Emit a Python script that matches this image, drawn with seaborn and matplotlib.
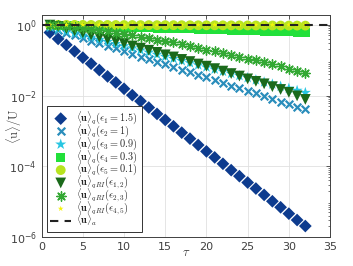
import numpy as np
import pandas as pd
import matplotlib
matplotlib.use("Agg")
import matplotlib.pyplot as plt
import seaborn as sns
from matplotlib.ticker import LogLocator, NullFormatter, FixedLocator

tau = list(range(1, 33))

# log10 of <u>/U
log_q1 = [-0.22, -0.40, -0.57, -0.75, -0.93, -1.10, -1.28, -1.46, -1.63, -1.81, -1.99, -2.16,
          -2.34, -2.52, -2.69, -2.87, -3.05, -3.22, -3.40, -3.58, -3.75, -3.93, -4.11, -4.28,
          -4.46, -4.63, -4.81, -4.99, -5.16, -5.34, -5.52, -5.69]
log_q2 = [-0.07, -0.15, -0.22, -0.30, -0.37, -0.45, -0.52, -0.60, -0.67, -0.75, -0.82, -0.90,
          -0.97, -1.05, -1.12, -1.20, -1.27, -1.34, -1.42, -1.49, -1.57, -1.64, -1.72, -1.79,
          -1.87, -1.94, -2.02, -2.09, -2.17, -2.24, -2.32, -2.39]
log_q3 = [-0.06, -0.12, -0.18, -0.24, -0.30, -0.36, -0.42, -0.48, -0.54, -0.60, -0.66, -0.72,
          -0.78, -0.84, -0.90, -0.96, -1.02, -1.08, -1.14, -1.20, -1.26, -1.32, -1.38, -1.44,
          -1.50, -1.56, -1.62, -1.68, -1.74, -1.80, -1.86, -1.92]
log_q4 = [-0.007, -0.014, -0.020, -0.027, -0.034, -0.040, -0.047, -0.054, -0.061, -0.068, -0.074,
          -0.081, -0.088, -0.095, -0.101, -0.108, -0.115, -0.122, -0.128, -0.135, -0.142, -0.149,
          -0.155, -0.162, -0.169, -0.176, -0.182, -0.189, -0.196, -0.203, -0.209, -0.216]
log_q5 = [-0.001, -0.002, -0.002, -0.003, -0.004, -0.005, -0.005, -0.006, -0.007, -0.008, -0.008,
          -0.009, -0.010, -0.011, -0.011, -0.012, -0.013, -0.014, -0.014, -0.015, -0.016, -0.017,
          -0.017, -0.018, -0.019, -0.020, -0.020, -0.021, -0.022, -0.023, -0.023, -0.024]
log_ri12 = [-0.01, -0.05, -0.11, -0.17, -0.23, -0.29, -0.35, -0.41, -0.47, -0.53, -0.60, -0.66,
            -0.72, -0.78, -0.85, -0.91, -0.98, -1.04, -1.11, -1.17, -1.24, -1.31, -1.38, -1.45,
            -1.53, -1.60, -1.67, -1.75, -1.83, -1.91, -2.01, -2.11]
log_ri23 = [-0.01, -0.02, -0.04, -0.06, -0.09, -0.12, -0.15, -0.18, -0.22, -0.26, -0.30, -0.34,
            -0.38, -0.42, -0.46, -0.50, -0.55, -0.60, -0.65, -0.70, -0.75, -0.80, -0.85, -0.90,
            -0.96, -1.01, -1.06, -1.12, -1.18, -1.24, -1.30, -1.36]
log_ri45 = [0.0] * 32
analytic = 1.0

labels = [r'$\langle\mathbf{u}\rangle_q(\epsilon_1 = 1.5)$',
          r'$\langle\mathbf{u}\rangle_q(\epsilon_2 = 1)$',
          r'$\langle\mathbf{u}\rangle_q(\epsilon_3 = 0.9)$',
          r'$\langle\mathbf{u}\rangle_q(\epsilon_4 = 0.3)$',
          r'$\langle\mathbf{u}\rangle_q(\epsilon_5 = 0.1)$',
          r'$\langle\mathbf{u}\rangle_{qRI}(\epsilon_{1,2})$',
          r'$\langle\mathbf{u}\rangle_{qRI}(\epsilon_{2,3})$',
          r'$\langle\mathbf{u}\rangle_{qRI}(\epsilon_{4,5})$']
label_a = r'$\langle\mathbf{u}\rangle_a$'

series = [log_q1, log_q2, log_q3, log_q4, log_q5, log_ri12, log_ri23, log_ri45]

styles = [
    dict(marker='D', color='#0d3b8e', s=42, lw=0),
    dict(marker='x', color='#2a8dbb', s=30, lw=1.6),
    dict(marker='*', color='#28c6e2', s=70, lw=0),
    dict(marker='s', color='#22e03a', s=40, lw=0),
    dict(marker='o', color='#b8e41f', s=50, lw=0),
    dict(marker='v', color='#1b6a1b', s=60, lw=0),
    dict(marker=(8, 2, 0), color='#33a833', s=45, lw=1.0),
    dict(marker='*', color='#f4f40a', s=18, lw=0),
]

sns.set_theme(style="white")
plt.rcParams['font.family'] = ['DejaVu Sans']
plt.rcParams['mathtext.fontset'] = 'cm'

fig = plt.figure(figsize=(3.53, 2.66), dpi=100)
ax = fig.add_axes([0.118, 0.109, 0.817, 0.835])

for vals, lab, st in zip(series, labels, styles):
    df = pd.DataFrame({'tau': tau, 'u': np.power(10.0, vals)})
    sns.scatterplot(data=df, x='tau', y='u', ax=ax, marker=st['marker'], color=st['color'],
                    s=st['s'], linewidth=st['lw'], edgecolor=st['color'] if st['lw'] else 'none',
                    label=lab, legend=False, zorder=3)

ax.axhline(analytic, color='#222222', lw=1.5, ls=(0, (4, 3)), label=label_a, zorder=4)

ax.set_yscale('log')
ax.set_xlim(0, 35)
ax.set_ylim(1e-6, 1.9)
ax.xaxis.set_major_locator(FixedLocator([0, 5, 10, 15, 20, 25, 30, 35]))
ax.yaxis.set_major_locator(FixedLocator([1e-6, 1e-4, 1e-2, 1e0]))
ax.yaxis.set_minor_locator(LogLocator(base=10, subs=np.arange(2, 10), numticks=20))
ax.yaxis.set_minor_formatter(NullFormatter())
ax.set_yticklabels([r'$\mathregular{10^{-6}}$', r'$\mathregular{10^{-4}}$',
                    r'$\mathregular{10^{-2}}$', r'$\mathregular{10^{0}}$'])

ax.grid(True, which='major', color='#e0e0e0', lw=0.6)
ax.tick_params(axis='both', which='both', direction='in', top=True, right=True,
               labelsize=8, labelcolor='#404040', color='#404040')
ax.tick_params(which='major', length=3, width=0.6)
ax.tick_params(which='minor', length=1.5, width=0.5)
for sp in ax.spines.values():
    sp.set_color('#404040')
    sp.set_linewidth(0.7)

ax.set_xlabel(r'$\tau$', fontsize=9, color='#404040', labelpad=-4)
ax.set_ylabel(r'$\langle\mathrm{u}\rangle/\mathrm{U}$', fontsize=9, color='#404040')
ax.yaxis.set_label_coords(-0.062, 0.5)

handles, labs = ax.get_legend_handles_labels()
leg = ax.legend(handles, labs, loc='lower left', bbox_to_anchor=(0.018, 0.023), borderaxespad=0,
                fontsize=7.4, frameon=True, fancybox=False, edgecolor='#333333',
                handlelength=2.0, handleheight=0.5, handletextpad=0.5, labelspacing=-0.38,
                borderpad=0.35, framealpha=1)
leg.get_frame().set_linewidth(0.7)

fig.savefig('out.png', dpi=100)
